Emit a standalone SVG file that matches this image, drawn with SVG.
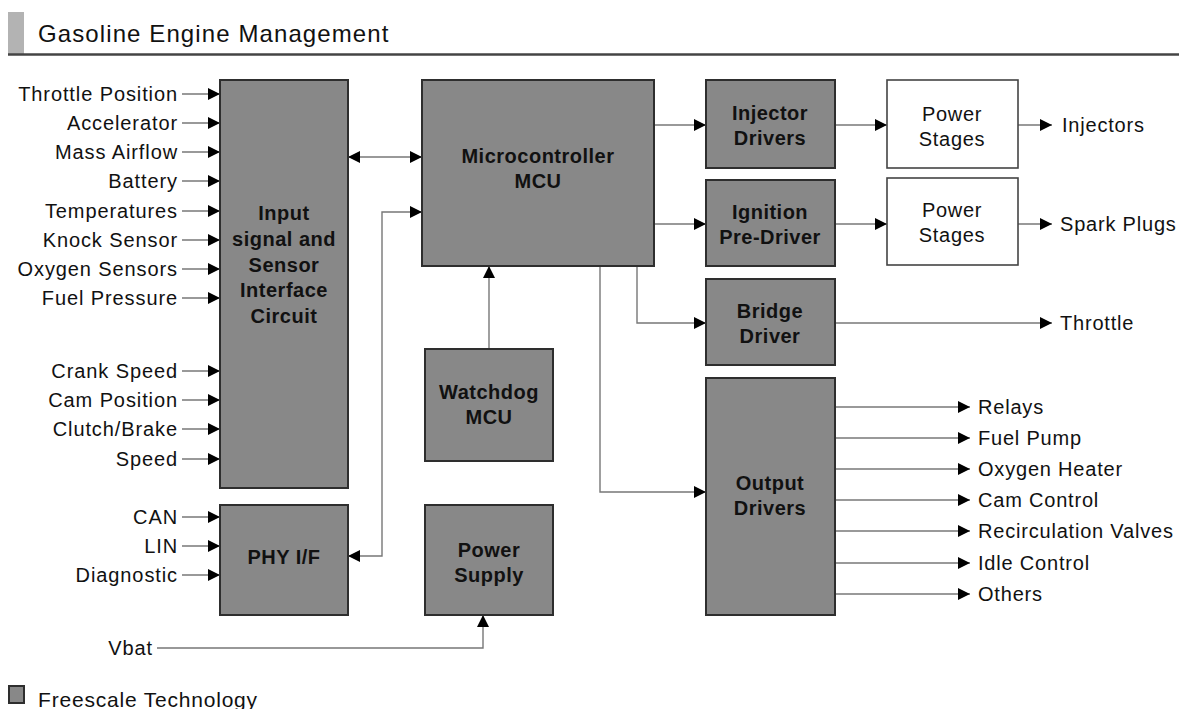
<svg xmlns="http://www.w3.org/2000/svg" width="1179" height="709" viewBox="0 0 1179 709">
<style>
.box{fill:#888888;stroke:#2e2e2e;stroke-width:2}
.wbox{fill:#ffffff;stroke:#444444;stroke-width:1.6}
.bl{font-family:"Liberation Sans",Arial,sans-serif;font-size:20px;font-weight:bold;fill:#111;text-anchor:middle;letter-spacing:0.5px}
.rl{font-family:"Liberation Sans",Arial,sans-serif;font-size:20px;fill:#111;text-anchor:middle;letter-spacing:0.7px}
.lab{font-family:"Liberation Sans",Arial,sans-serif;font-size:20px;fill:#111;letter-spacing:0.8px}
.labr{font-family:"Liberation Sans",Arial,sans-serif;font-size:20px;fill:#111;letter-spacing:0.9px;text-anchor:end}
.arr{fill:none;stroke:#777777;stroke-width:1.4;marker-end:url(#ah)}
.arr2{fill:none;stroke:#777777;stroke-width:1.4;marker-end:url(#ah);marker-start:url(#ah)}
</style>
<defs>
<marker id="ah" viewBox="0 0 12 12" refX="12" refY="6" markerWidth="12" markerHeight="12" markerUnits="userSpaceOnUse" orient="auto-start-reverse"><path d="M0,0 L12,6 L0,12 z" fill="#000"/></marker>
</defs>
<rect width="1179" height="709" fill="#ffffff"/>

<g id="title">
<rect x="8" y="12" width="16" height="42" fill="#b3b3b3"/>
<line x1="8" y1="54.5" x2="1179" y2="54.5" stroke="#444" stroke-width="2.5"/>
<text x="38" y="42" font-family="'Liberation Sans',Arial,sans-serif" font-size="24" letter-spacing="1.1" fill="#111">Gasoline Engine Management</text>
</g>

<g id="connectors">
<path class="arr" d="M182,94 H220"/>
<path class="arr" d="M182,123 H220"/>
<path class="arr" d="M182,152 H220"/>
<path class="arr" d="M182,181 H220"/>
<path class="arr" d="M182,211 H220"/>
<path class="arr" d="M182,240 H220"/>
<path class="arr" d="M182,269 H220"/>
<path class="arr" d="M182,298 H220"/>
<path class="arr" d="M182,371 H220"/>
<path class="arr" d="M182,400 H220"/>
<path class="arr" d="M182,429 H220"/>
<path class="arr" d="M182,459 H220"/>
<path class="arr" d="M182,517 H220"/>
<path class="arr" d="M182,546 H220"/>
<path class="arr" d="M182,575 H220"/>
<path class="arr2" d="M348,157 H422"/>
<path class="arr2" d="M348,556 H382 V212 H422"/>
<path class="arr" d="M489,349 V266"/>
<path class="arr" d="M157,648 H483 V615"/>
<path class="arr" d="M654,125 H706"/>
<path class="arr" d="M654,224 H706"/>
<path class="arr" d="M637,266 V323 H706"/>
<path class="arr" d="M600,266 V492 H706"/>
<path class="arr" d="M835,125 H887"/>
<path class="arr" d="M835,224 H887"/>
<path class="arr" d="M1018,125 H1052"/>
<path class="arr" d="M1018,224 H1052"/>
<path class="arr" d="M835,323 H1052"/>
<path class="arr" d="M835,407 H970"/>
<path class="arr" d="M835,438 H970"/>
<path class="arr" d="M835,469 H970"/>
<path class="arr" d="M835,500 H970"/>
<path class="arr" d="M835,531 H970"/>
<path class="arr" d="M835,563 H970"/>
<path class="arr" d="M835,594 H970"/>
</g>

<g id="input-labels">
<text class="labr" x="178" y="101">Throttle Position</text>
<text class="labr" x="178" y="130">Accelerator</text>
<text class="labr" x="178" y="159">Mass Airflow</text>
<text class="labr" x="178" y="188">Battery</text>
<text class="labr" x="178" y="218">Temperatures</text>
<text class="labr" x="178" y="247">Knock Sensor</text>
<text class="labr" x="178" y="276">Oxygen Sensors</text>
<text class="labr" x="178" y="305">Fuel Pressure</text>
<text class="labr" x="178" y="378">Crank Speed</text>
<text class="labr" x="178" y="407">Cam Position</text>
<text class="labr" x="178" y="436">Clutch/Brake</text>
<text class="labr" x="178" y="466">Speed</text>
<text class="labr" x="178" y="524">CAN</text>
<text class="labr" x="178" y="553">LIN</text>
<text class="labr" x="178" y="582">Diagnostic</text>
<text class="labr" x="153" y="655">Vbat</text>
</g>

<g id="output-labels">
<text class="lab" x="1062" y="132">Injectors</text>
<text class="lab" x="1060" y="231">Spark Plugs</text>
<text class="lab" x="1060" y="330">Throttle</text>
<text class="lab" x="978" y="414">Relays</text>
<text class="lab" x="978" y="445">Fuel Pump</text>
<text class="lab" x="978" y="476">Oxygen Heater</text>
<text class="lab" x="978" y="507">Cam Control</text>
<text class="lab" x="978" y="538">Recirculation Valves</text>
<text class="lab" x="978" y="570">Idle Control</text>
<text class="lab" x="978" y="601">Others</text>
</g>

<g id="input-circuit">
<rect class="box" x="220" y="80" width="128" height="408"/>
<text class="bl" x="284" y="220">Input</text>
<text class="bl" x="284" y="246">signal and</text>
<text class="bl" x="284" y="272">Sensor</text>
<text class="bl" x="284" y="297">Interface</text>
<text class="bl" x="284" y="323">Circuit</text>
</g>

<g id="mcu">
<rect class="box" x="422" y="80" width="232" height="186"/>
<text class="bl" x="538" y="163">Microcontroller</text>
<text class="bl" x="538" y="188">MCU</text>
</g>

<g id="watchdog">
<rect class="box" x="425" y="349" width="128" height="112"/>
<text class="bl" x="489" y="399">Watchdog</text>
<text class="bl" x="489" y="424">MCU</text>
</g>

<g id="phy">
<rect class="box" x="220" y="505" width="128" height="110"/>
<text class="bl" x="284" y="564">PHY I/F</text>
</g>

<g id="power-supply">
<rect class="box" x="425" y="505" width="128" height="110"/>
<text class="bl" x="489" y="557">Power</text>
<text class="bl" x="489" y="582">Supply</text>
</g>

<g id="injector-drivers">
<rect class="box" x="706" y="80" width="129" height="88"/>
<text class="bl" x="770" y="120">Injector</text>
<text class="bl" x="770" y="145">Drivers</text>
</g>

<g id="ignition">
<rect class="box" x="706" y="180" width="129" height="86"/>
<text class="bl" x="770" y="219">Ignition</text>
<text class="bl" x="770" y="244">Pre-Driver</text>
</g>

<g id="bridge">
<rect class="box" x="706" y="279" width="129" height="86"/>
<text class="bl" x="770" y="318">Bridge</text>
<text class="bl" x="770" y="343">Driver</text>
</g>

<g id="output-drivers">
<rect class="box" x="706" y="378" width="129" height="237"/>
<text class="bl" x="770" y="490">Output</text>
<text class="bl" x="770" y="515">Drivers</text>
</g>

<g id="power-stages-1">
<rect class="wbox" x="887" y="80" width="131" height="88"/>
<text class="rl" x="952" y="121">Power</text>
<text class="rl" x="952" y="146">Stages</text>
</g>

<g id="power-stages-2">
<rect class="wbox" x="887" y="178" width="131" height="87"/>
<text class="rl" x="952" y="217">Power</text>
<text class="rl" x="952" y="242">Stages</text>
</g>

<g id="legend">
<rect class="box" x="9" y="686" width="15" height="17" stroke-width="1.5"/>
<text x="38" y="707" font-family="'Liberation Sans',Arial,sans-serif" font-size="21" letter-spacing="0.8" fill="#111">Freescale Technology</text>
</g>
</svg>
